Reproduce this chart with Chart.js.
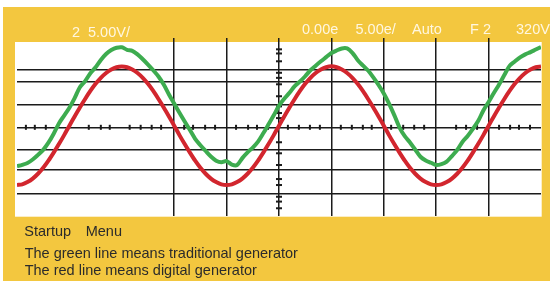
<!DOCTYPE html>
<html><head><meta charset="utf-8">
<script src="https://cdn.jsdelivr.net/npm/chart.js@4.4.1/dist/chart.umd.min.js"></script>
<style>
html,body{margin:0;padding:0;background:#fff;overflow:hidden;}
#wrap{position:relative;width:550px;height:281px;overflow:hidden;background:#fff;}
#panel{position:absolute;left:3px;top:7px;right:0;bottom:0;background:#F3C73F;}
canvas{position:absolute;left:0;top:0;}
.t{position:absolute;font-family:"Liberation Sans",Arial,sans-serif;font-size:14.5px;line-height:1;white-space:nowrap;}
.hd{color:#FFF7E0;}
.ft{color:#2b2b2b;}
</style></head><body>
<div id="wrap">
<div id="panel"></div>
<canvas id="c" width="550" height="281"></canvas>
<span class="t hd" style="left:72px;top:25.4px">2</span>
<span class="t hd" style="left:88px;top:25.4px">5.00V/</span>
<span class="t hd" style="left:302px;top:22px">0.00e</span>
<span class="t hd" style="left:355.5px;top:22px">5.00e/</span>
<span class="t hd" style="left:412px;top:22px">Auto</span>
<span class="t hd" style="left:470px;top:22px">F 2</span>
<span class="t hd" style="left:516px;top:22px">320V</span>
<span class="t ft" style="left:24.3px;top:223.7px">Startup</span>
<span class="t ft" style="left:85.7px;top:223.7px">Menu</span>
<span class="t ft" style="left:24.7px;top:246px">The green line means traditional generator</span>
<span class="t ft" style="left:24.7px;top:262.7px">The red line means digital generator</span>
</div>
<script>
// time axis in screen divisions
const time = [-5.0,-4.9,-4.8,-4.7,-4.6,-4.5,-4.4,-4.3,-4.2,-4.1,-4.0,-3.9,-3.8,-3.7,-3.6,-3.5,-3.4,-3.3,-3.2,-3.1,-3.0,-2.9,-2.8,-2.7,-2.6,-2.5,-2.4,-2.3,-2.2,-2.1,-2.0,-1.9,-1.8,-1.7,-1.6,-1.5,-1.4,-1.3,-1.2,-1.1,-1.0,-0.9,-0.8,-0.7,-0.6,-0.5,-0.4,-0.3,-0.2,-0.1,0.0,0.1,0.2,0.3,0.4,0.5,0.6,0.7,0.8,0.9,1.0,1.1,1.2,1.3,1.4,1.5,1.6,1.7,1.8,1.9,2.0,2.1,2.2,2.3,2.4,2.5,2.6,2.7,2.8,2.9,3.0,3.1,3.2,3.3,3.4,3.5,3.6,3.7,3.8,3.9,4.0,4.1,4.2,4.3,4.4,4.5,4.6,4.7,4.8,4.9,5.0];

// traditional generator (green)
const greenLine = [-1.69,-1.63,-1.55,-1.40,-1.20,-0.98,-0.67,-0.28,0.17,0.51,0.85,
  1.27,1.74,2.01,2.35,2.61,2.93,3.19,3.36,3.46,3.48,
  3.37,3.32,3.17,2.96,2.73,2.48,2.21,1.86,1.43,1.03,
  0.63,0.25,-0.12,-0.50,-0.78,-1.03,-1.27,-1.45,-1.52,-1.47,
  -1.62,-1.64,-1.34,-1.09,-0.88,-0.62,-0.26,0.13,0.52,0.94,
  1.24,1.50,1.79,1.99,2.22,2.48,2.68,2.87,3.05,3.23,
  3.34,3.43,3.43,3.24,2.93,2.69,2.47,2.17,1.84,1.47,
  1.03,0.53,-0.01,-0.38,-0.66,-0.97,-1.28,-1.44,-1.54,-1.64,
  -1.60,-1.49,-1.25,-0.99,-0.64,-0.38,-0.07,0.27,0.73,1.10,
  1.49,1.86,2.27,2.67,2.86,3.04,3.17,3.27,3.38,3.49];

// digital generator (red)
const redLine = [-2.51,-2.48,-2.38,-2.23,-2.02,-1.76,-1.45,-1.10,-0.73,-0.34,0.07,
  0.47,0.86,1.23,1.58,1.89,2.15,2.36,2.51,2.61,2.64,
  2.61,2.51,2.36,2.15,1.89,1.58,1.23,0.86,0.47,0.07,
  -0.34,-0.73,-1.10,-1.45,-1.76,-2.02,-2.23,-2.38,-2.48,-2.51,
  -2.48,-2.38,-2.23,-2.02,-1.76,-1.45,-1.10,-0.73,-0.34,0.07,
  0.47,0.86,1.23,1.58,1.89,2.15,2.36,2.51,2.61,2.65,
  2.61,2.51,2.36,2.15,1.89,1.58,1.23,0.86,0.47,0.07,
  -0.34,-0.73,-1.10,-1.45,-1.76,-2.02,-2.23,-2.38,-2.48,-2.51,
  -2.48,-2.38,-2.23,-2.02,-1.76,-1.45,-1.10,-0.73,-0.34,0.07,
  0.47,0.86,1.23,1.58,1.89,2.15,2.36,2.51,2.61,2.64];

// grid (graticule) positions
const xGridLines = [-2,-1,0,1,2,3,4];
const yGridLines = [2.51,2.0,0.99,0,-0.99,-1.86,-2.87];
// small tick marks on the centre axes
const xAxisMarks = [-4.83,-4.66,-4.45,-3.63,-3.40,-3.23,-2.85,-2.64,-2.43,-2.25,-1.81,-1.64,-1.41,-1.22,-0.82,-0.59,-0.42,-0.21,0.17,0.38,0.59,0.78,1.18,1.39,1.60,1.77,2.14,2.37,2.58,2.77,3.38,3.57,3.78,4.20,4.41,4.58,4.79];
const yAxisMarks = [3.39,3.21,2.87,2.37,2.15,1.87,1.35,0.91,0.62,0.40,-0.65,-1.13,-1.64,-2.25,-2.51,-3.02,-3.23,-3.52];

const plotBg = {
  id: 'plotBg',
  beforeDraw(chart) {
    const {ctx, chartArea: a} = chart;
    ctx.save();
    ctx.fillStyle = '#ffffff';
    ctx.fillRect(a.left - 2, a.top + 4, (a.right + 0.7) - (a.left - 2), (a.bottom + 1.2) - (a.top + 4));
    ctx.restore();
  }
};
const axisMarks = {
  id: 'axisMarks',
  beforeDatasetsDraw(chart) {
    const {ctx, scales: {x, y}} = chart;
    const y0 = y.getPixelForValue(0), x0 = x.getPixelForValue(0);
    ctx.save();
    ctx.fillStyle = '#1b1b1b';
    xAxisMarks.forEach(v => { const px = x.getPixelForValue(v); ctx.fillRect(px - 1, y0 - 2.5, 2, 5); });
    yAxisMarks.forEach(v => { const py = y.getPixelForValue(v); ctx.fillRect(x0 - 3, py - 1, 6, 2); });
    ctx.restore();
  }
};

const gridStyle = {color: '#1b1b1b', lineWidth: 1.5, drawTicks: false};
new Chart(document.getElementById('c'), {
  type: 'line',
  data: {
    datasets: [
      {label: 'digital generator', data: time.map((t, i) => ({x: t, y: redLine[i]})),
       borderColor: '#D2262E', borderWidth: 4, pointRadius: 0, tension: 0.3, fill: false},
      {label: 'traditional generator', data: time.map((t, i) => ({x: t, y: greenLine[i]})),
       borderColor: '#3DAC4F', borderWidth: 4, pointRadius: 0, tension: 0.3, fill: false}
    ]
  },
  options: {
    responsive: false,
    animation: false,
    devicePixelRatio: 1,
    layout: {padding: {left: 17, right: 9, top: 38, bottom: 65.5}},
    plugins: {legend: {display: false}, tooltip: {enabled: false}},
    scales: {
      x: {type: 'linear', min: -5, max: 5, border: {display: false}, grid: gridStyle,
          ticks: {display: false}, afterBuildTicks: s => { s.ticks = xGridLines.map(v => ({value: v})); }},
      y: {type: 'linear', min: -3.835, max: 3.883, border: {display: false}, grid: gridStyle,
          ticks: {display: false}, afterBuildTicks: s => { s.ticks = yGridLines.map(v => ({value: v})); }}
    }
  },
  plugins: [plotBg, axisMarks]
});
</script>
</body></html>
